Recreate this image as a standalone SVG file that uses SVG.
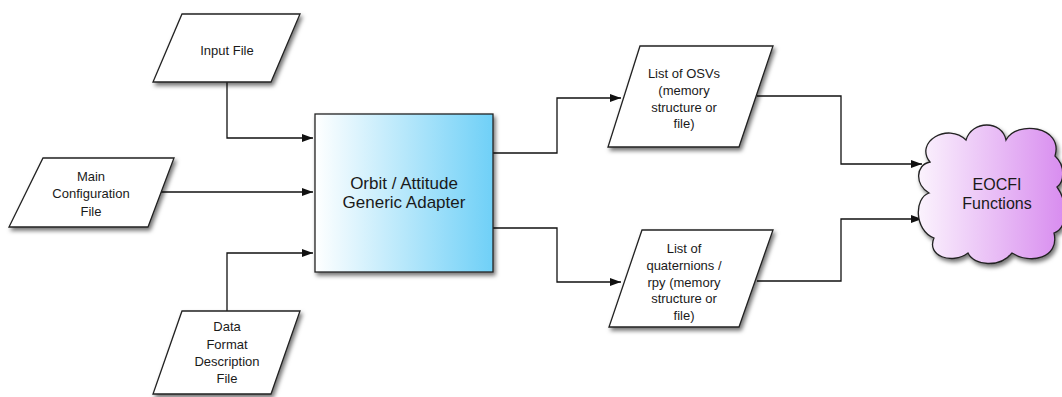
<svg xmlns="http://www.w3.org/2000/svg" width="1062" height="397" viewBox="0 0 1062 397">
<style>
.shape{stroke:#222;stroke-width:1.3;filter:url(#sh)}
.para{fill:#fff}
.t{font-family:"Liberation Sans",Arial,sans-serif;fill:#1a1a1a;text-anchor:middle}
.s{font-size:13px}
.b{font-size:17px}
.c{font-size:16px}
.conn{fill:none;stroke:#111;stroke-width:1.3}
</style>
<defs>
<filter id="sh" x="-20%" y="-20%" width="140%" height="150%">
<feDropShadow dx="2" dy="3" stdDeviation="2.2" flood-color="#000" flood-opacity="0.55"/>
</filter>
<linearGradient id="blue" x1="0" y1="0" x2="1" y2="0">
<stop offset="0" stop-color="#ffffff"/>
<stop offset="1" stop-color="#6fd0f7"/>
</linearGradient>
<linearGradient id="violet" x1="0" y1="0" x2="1" y2="0">
<stop offset="0" stop-color="#fbf3fd"/>
<stop offset="1" stop-color="#d88cef"/>
</linearGradient>
<marker id="arr" markerWidth="12" markerHeight="10" refX="11" refY="5" orient="auto" markerUnits="userSpaceOnUse">
<path d="M0,1 L11,5 L0,9 Z" fill="#111"/>
</marker>
</defs>

<g id="connectors">
<path class="conn" d="M227,82 V138 H313" marker-end="url(#arr)"/>
<path class="conn" d="M161,192 H313" marker-end="url(#arr)"/>
<path class="conn" d="M227,311 V253 H313" marker-end="url(#arr)"/>
<path class="conn" d="M493,153 H557 V98 H621" marker-end="url(#arr)"/>
<path class="conn" d="M493,228 H557 V282 H621" marker-end="url(#arr)"/>
<path class="conn" d="M757,96 H841 V164 H922" marker-end="url(#arr)"/>
<path class="conn" d="M757,281 H841 V219 H922" marker-end="url(#arr)"/>
</g>

<g id="input-file">
<polygon class="shape para" points="182,14 300,14 271,82 153,82"/>
<text class="t s" x="227" y="55">Input File</text>
</g>

<g id="main-config">
<polygon class="shape para" points="43,158 174,158 148,227 9,227"/>
<text class="t s" x="91" y="181">Main</text>
<text class="t s" x="91" y="198">Configuration</text>
<text class="t s" x="91" y="216">File</text>
</g>

<g id="data-format">
<polygon class="shape para" points="182,311 300,311 271,394 153,394"/>
<text class="t s" x="227" y="331">Data</text>
<text class="t s" x="227" y="349">Format</text>
<text class="t s" x="227" y="366">Description</text>
<text class="t s" x="227" y="383">File</text>
</g>

<g id="adapter">
<rect class="shape" x="315" y="114" width="178" height="158" fill="url(#blue)"/>
<text class="t b" x="404" y="189">Orbit / Attitude</text>
<text class="t b" x="404" y="208">Generic Adapter</text>
</g>

<g id="osv-list">
<polygon class="shape para" points="640,46 773,46 739,147 608,147"/>
<text class="t s" x="684" y="78">List of OSVs</text>
<text class="t s" x="684" y="95">(memory</text>
<text class="t s" x="684" y="112">structure or</text>
<text class="t s" x="684" y="128">file)</text>
</g>

<g id="quat-list">
<polygon class="shape para" points="642,230 773,230 739,327 609,327"/>
<text class="t s" x="684" y="253">List of</text>
<text class="t s" x="684" y="270">quaternions /</text>
<text class="t s" x="684" y="287">rpy (memory</text>
<text class="t s" x="684" y="303">structure or</text>
<text class="t s" x="684" y="320">file)</text>
</g>

<g id="eocfi">
<path class="shape" fill="url(#violet)" d="M930,162 C914,142 948,122 966,140 C972,120 1002,120 1006,140 C1016,120 1064,126 1055,156 C1066,166 1064,182 1057,187 C1068,202 1068,228 1054,233 C1060,258 1030,265 1012,253 C1000,268 974,266 968,253 C952,265 926,256 934,238 C914,230 914,198 929,193 C915,185 915,165 930,162 Z"/>
<text class="t c" x="997" y="190">EOCFI</text>
<text class="t c" x="997" y="209">Functions</text>
</g>
</svg>
